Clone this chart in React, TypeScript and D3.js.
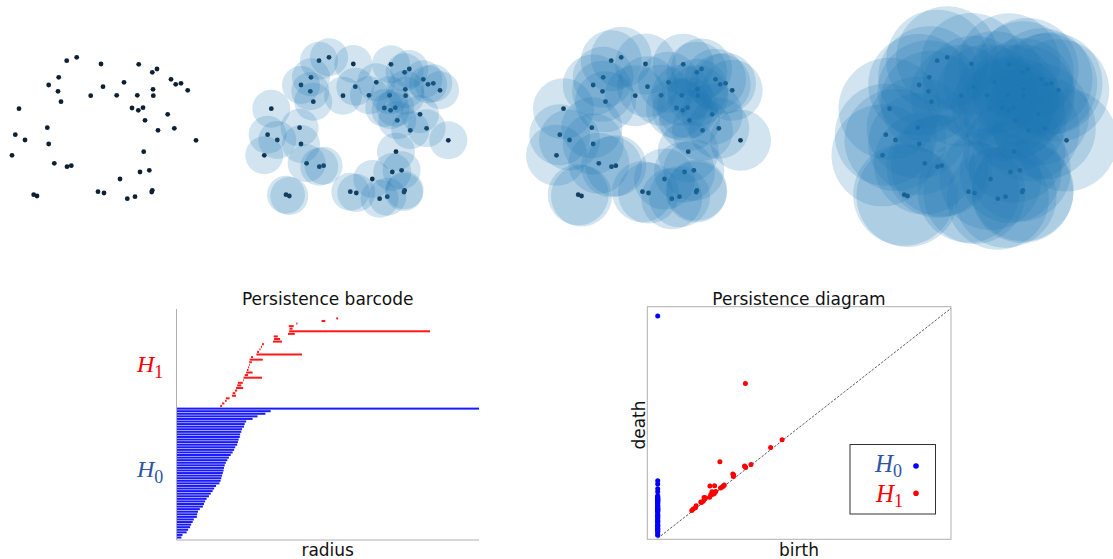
import React from 'react';
import * as d3 from 'd3';

// point cloud (same 50 points in every panel)
const cloudX = [66.7, 76.7, 101, 138.7, 152.3, 157, 58.7, 48.7, 58, 61, 103, 90.7, 124, 116.7, 137.3, 153, 153.3, 171, 175.7, 181, 187.7, 19, 132, 138.3, 143, 145, 167.7, 158, 174.3, 196, 47.3, 15.3, 25, 48.7, 12, 143.7, 54.3, 67, 71.3, 149.3, 140, 120, 33.7, 37, 98, 104, 152.3, 151.7, 127.3, 135];
const cloudY = [60.7, 57.3, 64, 64.3, 72.3, 69, 77.3, 85, 91.3, 101.7, 86.7, 95.7, 82.3, 95.3, 95.3, 89.3, 95.7, 79.3, 84.3, 83.3, 90.3, 108.7, 108, 110.3, 107.7, 120.3, 114.3, 130.3, 128.3, 140.3, 127.7, 134.7, 140, 144, 155.3, 151.7, 163.3, 166.7, 165.7, 170.3, 172, 179, 194.7, 196, 191.7, 193, 190.3, 192, 198.7, 196.7];
const filtrationRadii = [0, 19, 30.5, 51];

// H0 deaths (births all 0), longest first
const h0Deaths = [Infinity, 0.250, 0.236, 0.215, 0.202, 0.185, 0.181, 0.179, 0.174, 0.172, 0.169, 0.168, 0.165, 0.163, 0.161, 0.156, 0.153, 0.149, 0.144, 0.139, 0.135, 0.131, 0.128, 0.126, 0.125, 0.123, 0.121, 0.119, 0.117, 0.114, 0.105, 0.100, 0.096, 0.091, 0.086, 0.080, 0.076, 0.073, 0.070, 0.062, 0.057, 0.055, 0.054, 0.046, 0.043, 0.039, 0.036, 0.031, 0.027, 0.016, 0.013];

// H1 intervals, bottom bar first
const h1Births = [0.116, 0.121, 0.129, 0.131, 0.147, 0.149, 0.155, 0.158, 0.161, 0.163, 0.177, 0.178, 0.181, 0.185, 0.187, 0.190, 0.193, 0.193, 0.194, 0.198, 0.212, 0.214, 0.220, 0.224, 0.227, 0.256, 0.259, 0.258, 0.296, 0.299, 0.300, 0.298, 0.318, 0.385, 0.424];
const h1Deaths = [0.121, 0.127, 0.133, 0.141, 0.158, 0.156, 0.161, 0.177, 0.172, 0.176, 0.179, 0.227, 0.190, 0.202, 0.191, 0.193, 0.195, 0.200, 0.229, 0.203, 0.333, 0.219, 0.223, 0.227, 0.232, 0.280, 0.275, 0.269, 0.314, 0.673, 0.308, 0.311, 0.321, 0.395, 0.429];

const diagramInfinity = 0.967;

const panelOffsets = [0, 252.3, 544.5, 870.5];

const W = 1113;
const H = 559;

function Cloud({ offset, radius }: { offset: number; radius: number }) {
  const x = d3.scaleLinear().domain([0, 200]).range([offset, offset + 200]);
  const y = d3.scaleLinear().domain([0, 200]).range([0, 200]);
  const r = x(radius) - x(0);
  return (
    <g>
      {cloudX.map((cx, i) => (
        <circle key={'p' + i} cx={x(cx)} cy={y(cloudY[i])} r={2.4} fill="#0d2033" />
      ))}
      {radius > 0 &&
        cloudX.map((cx, i) => (
          <circle key={'c' + i} cx={x(cx)} cy={y(cloudY[i])} r={r} fill="#1f77b4" fillOpacity={0.2} />
        ))}
    </g>
  );
}

function Barcode() {
  const bx = d3.scaleLinear().domain([0, 0.803]).range([176.5, 479]);
  const h1Rows = h1Births.map((b, i) => ({ birth: b, death: h1Deaths[i], color: '#ff1a1a' })).reverse();
  const h0Rows = h0Deaths.map(d => ({ birth: 0, death: d, color: '#1a1aff' }));
  const rows = [...h1Rows, ...h0Rows];
  const by = d3.scaleBand<number>().domain(d3.range(rows.length)).range([317.4, 538.5]).paddingInner(0.22);
  const [, xMax] = bx.domain();
  return (
    <g>
      {rows.map((d, i) => (
        <rect
          key={i}
          x={bx(d.birth)}
          y={by(i)}
          width={Math.max(0.6, bx(Math.min(d.death, xMax)) - bx(d.birth))}
          height={by.bandwidth()}
          fill={d.color}
        />
      ))}
      <line x1={176.5} x2={176.5} y1={309} y2={540} stroke="#b0b0b0" strokeWidth={1} />
      <line x1={176.5} x2={479} y1={540} y2={540} stroke="#b0b0b0" strokeWidth={1} />
      <text x={327.7} y={305} textAnchor="middle" fontFamily="DejaVu Sans" fontSize={17} fill="#111">
        Persistence barcode
      </text>
      <text x={327.7} y={556} textAnchor="middle" fontFamily="DejaVu Sans" fontSize={17} fill="#111">
        radius
      </text>
      <text x={137} y={371.7} fontFamily="Liberation Serif" fontStyle="italic" fontSize={24} fill="#ff0000">
        H<tspan fontSize={18} dy={6} fontStyle="normal">1</tspan>
      </text>
      <text x={137} y={476.7} fontFamily="Liberation Serif" fontStyle="italic" fontSize={24} fill="#2f55a4">
        H<tspan fontSize={18} dy={6} fontStyle="normal">0</tspan>
      </text>
    </g>
  );
}

function Diagram() {
  const dx = d3.scaleLinear().domain([-0.0355, 1]).range([647.3, 951]);
  const dy = d3.scaleLinear().domain([0, 1]).range([538.3, 308.3]);
  return (
    <g>
      <rect x={647.3} y={306.7} width={951 - 647.3} height={539.3 - 306.7} fill="none" stroke="#b0b0b0" strokeWidth={1} />
      <line x1={dx(0)} y1={dy(0)} x2={dx(1)} y2={dy(1)} stroke="#333" strokeWidth={0.8} strokeDasharray="2.5,1.5" />
      {h0Deaths.map((d, i) => (
        <circle key={'h0' + i} cx={dx(0)} cy={dy(Number.isFinite(d) ? d : diagramInfinity)} r={2.5} fill="#0000ff" />
      ))}
      {h1Births.map((b, i) => (
        <circle key={'h1' + i} cx={dx(b)} cy={dy(h1Deaths[i])} r={2.5} fill="#ff0000" />
      ))}
      <text x={799} y={305} textAnchor="middle" fontFamily="DejaVu Sans" fontSize={17} fill="#111">
        Persistence diagram
      </text>
      <text x={799} y={556} textAnchor="middle" fontFamily="DejaVu Sans" fontSize={17} fill="#111">
        birth
      </text>
      <text transform="translate(645,425) rotate(-90)" textAnchor="middle" fontFamily="DejaVu Sans" fontSize={17} fill="#111">
        death
      </text>
      <rect x={850} y={444.5} width={85.5} height={69.5} fill="#fff" stroke="#333" strokeWidth={1} />
      <text x={875} y={471.7} fontFamily="Liberation Serif" fontStyle="italic" fontSize={25} fill="#2f55a4">
        H<tspan fontSize={18} dy={5} fontStyle="normal">0</tspan>
      </text>
      <circle cx={916} cy={466} r={2.8} fill="#0000ff" />
      <text x={876} y={501.7} fontFamily="Liberation Serif" fontStyle="italic" fontSize={25} fill="#ff0000">
        H<tspan fontSize={18} dy={5} fontStyle="normal">1</tspan>
      </text>
      <circle cx={916} cy={493.3} r={2.8} fill="#ff0000" />
    </g>
  );
}

export default function App() {
  return (
    <svg
      width={W}
      height={H}
      style={{ position: 'absolute', left: 0, top: 0, background: '#fff' }}
    >
      {panelOffsets.map((o, i) => (
        <Cloud key={i} offset={o} radius={filtrationRadii[i]} />
      ))}
      <Barcode />
      <Diagram />
    </svg>
  );
}
